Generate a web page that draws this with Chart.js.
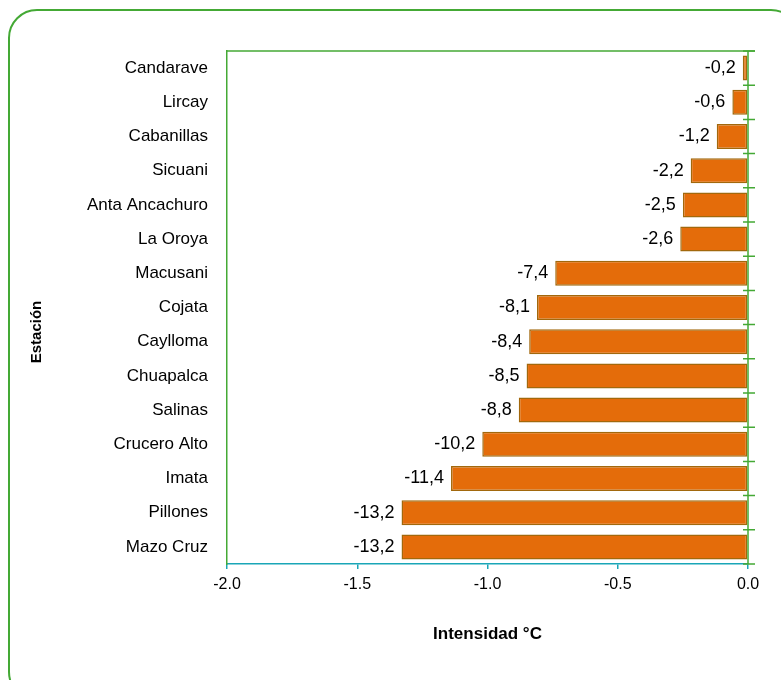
<!DOCTYPE html>
<html>
<head>
<meta charset="utf-8">
<script src="https://cdn.jsdelivr.net/npm/chart.js@4"></script>
<style>
  html, body { margin: 0; padding: 0; background: #fff; }
  #wrap { width: 781px; height: 680px; }
</style>
</head>
<body>
<div id="wrap"><canvas id="chart" width="781" height="680"></canvas></div>
<script>
// estaciones, de arriba hacia abajo
var stations = ['Candarave', 'Lircay', 'Cabanillas', 'Sicuani', 'Anta Ancachuro', 'La Oroya',
  'Macusani', 'Cojata', 'Caylloma', 'Chuapalca', 'Salinas', 'Crucero Alto', 'Imata', 'Pillones', 'Mazo Cruz'];
// longitud de barra leida sobre el eje
var intensity = [-0.02, -0.06, -0.12, -0.22, -0.25, -0.26, -0.74, -0.81, -0.84, -0.85, -0.88, -1.02, -1.14, -1.33, -1.33];
// etiquetas mostradas junto a cada barra
var barLabels = ['-0,2', '-0,6', '-1,2', '-2,2', '-2,5', '-2,6', '-7,4', '-8,1', '-8,4', '-8,5', '-8,8', '-10,2', '-11,4', '-13,2', '-13,2'];
var xTicks = [-2.0, -1.5, -1.0, -0.5, 0.0];

var GREEN = '#44a935';
var TEAL = '#1aa6b7';
var FONT = "'Liberation Sans', Arial, sans-serif";

var decor = {
  id: 'decor',
  beforeDraw: function(chart) {
    var ctx = chart.ctx;
    // marco redondeado exterior
    ctx.save();
    ctx.strokeStyle = GREEN;
    ctx.lineWidth = 2;
    ctx.beginPath();
    ctx.roundRect(9, 10, 790, 690, 28);
    ctx.stroke();
    ctx.restore();
  },
  afterDatasetsDraw: function(chart) {
    var ctx = chart.ctx;
    var area = chart.chartArea;
    var xs = chart.scales.x;
    var ys = chart.scales.y;
    var x0 = xs.getPixelForValue(0);

    ctx.save();
    // borde superior del area
    ctx.strokeStyle = GREEN;
    ctx.lineWidth = 1.5;
    ctx.beginPath();
    ctx.moveTo(area.left, area.top);
    ctx.lineTo(x0 + 7, area.top);
    ctx.stroke();
    // eje vertical en 0 con marcas entre categorias
    ctx.beginPath();
    ctx.moveTo(x0, area.top);
    ctx.lineTo(x0, area.bottom);
    for (var i = 0; i <= stations.length; i++) {
      var y = i < stations.length
        ? ys.getPixelForValue(i) - (ys.getPixelForValue(1) - ys.getPixelForValue(0)) / 2
        : area.bottom;
      ctx.moveTo(x0 - 5, y);
      ctx.lineTo(x0 + 7, y);
    }
    ctx.stroke();

    // etiquetas de datos
    ctx.fillStyle = '#000';
    ctx.font = '18px ' + FONT;
    ctx.textAlign = 'right';
    ctx.textBaseline = 'middle';
    var meta = chart.getDatasetMeta(0);
    meta.data.forEach(function(bar, i) {
      ctx.fillText(barLabels[i], bar.x - 7, bar.y);
    });

    // titulo eje vertical
    ctx.font = 'bold 15px ' + FONT;
    ctx.textAlign = 'center';
    ctx.translate(37, 332);
    ctx.rotate(-Math.PI / 2);
    ctx.fillText('Estación', 0, 0);
    ctx.restore();
  }
};

new Chart(document.getElementById('chart').getContext('2d'), {
  type: 'bar',
  data: {
    labels: stations,
    datasets: [{
      data: intensity,
      backgroundColor: '#e46c0a',
      borderColor: '#a2680c',
      borderWidth: 1.5,
      borderSkipped: false,
      barPercentage: 0.73,
      categoryPercentage: 1
    }]
  },
  options: {
    indexAxis: 'y',
    responsive: false,
    animation: false,
    layout: { padding: { left: 0, top: 51, right: 33, bottom: 0 } },
    plugins: { legend: { display: false }, tooltip: { enabled: false } },
    scales: {
      x: {
        min: -2,
        max: 0,
        afterBuildTicks: function(scale) {
          scale.ticks = xTicks.map(function(v) { return { value: v }; });
        },
        ticks: {
          color: '#000',
          font: { family: FONT, size: 16 },
          padding: 6,
          maxRotation: 0,
          callback: function(v) { return Number(v).toFixed(1); }
        },
        grid: { drawOnChartArea: false, drawTicks: true, tickLength: 5, color: TEAL, lineWidth: 1.5 },
        border: { color: TEAL, width: 1.5 },
        title: {
          display: true,
          text: 'Intensidad °C',
          color: '#000',
          font: { family: FONT, size: 17, weight: 'bold' },
          padding: { top: 0, bottom: 35 }
        },
        afterFit: function(scale) { scale.height = 116; }
      },
      y: {
        ticks: {
          color: '#000',
          font: { family: FONT, size: 17 },
          padding: 19
        },
        grid: { display: false, drawTicks: false },
        border: { color: GREEN, width: 1.5 },
        afterFit: function(scale) { scale.width = 227; }
      }
    }
  },
  plugins: [decor]
});
</script>
</body>
</html>
